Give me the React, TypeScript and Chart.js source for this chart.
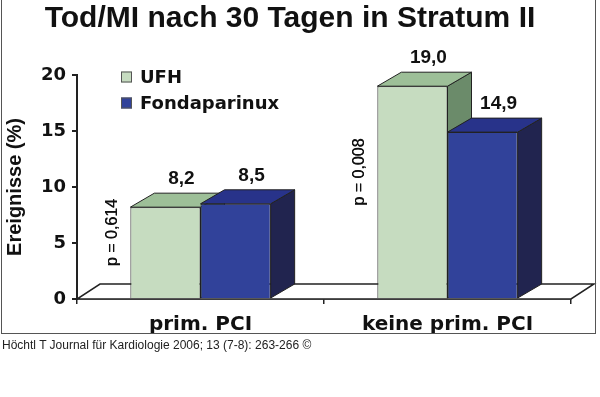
import React, { useEffect, useRef } from "react";
import { Chart, registerables } from "chart.js";

Chart.register(...registerables);

// ---- data ----
const categories = ["prim. PCI", "keine prim. PCI"];
const seriesNames = ["UFH", "Fondaparinux"];
const ufhValues = [8.2, 19.0];
const fondaValues = [8.5, 14.9];
const pValueLabels = ["p = 0,614", "p = 0,008"];
const yTickValues = [0, 5, 10, 15, 20];
const titleText = "Tod/MI nach 30 Tagen in Stratum II";
const yTitleText = "Ereignisse (%)";
const footerText = "Höchtl T Journal für Kardiologie 2006; 13 (7-8): 263-266 ©";

// ---- styles ----
const frontColors = ["#c6dcc0", "#31429a"];
const topColors = ["#9dbf98", "#28338a"];
const sideColors = ["#6b8b6a", "#21244f"];
const DX = 24;
const DY = -14;
const EDGE = "#222222";
const TEXT = "#111111";

const fmt = (v: number) => v.toFixed(1).replace(".", ",");

function poly(ctx: CanvasRenderingContext2D, pts: number[][], fill: string, lw = 1) {
  ctx.beginPath();
  ctx.moveTo(pts[0][0], pts[0][1]);
  for (let k = 1; k < pts.length; k++) ctx.lineTo(pts[k][0], pts[k][1]);
  ctx.closePath();
  ctx.fillStyle = fill;
  ctx.fill();
  ctx.lineWidth = lw;
  ctx.strokeStyle = EDGE;
  ctx.stroke();
}

const threeDPlugin = {
  id: "threeD",
  beforeDatasetsDraw(chart: any) {
    const { ctx, chartArea } = chart;
    const y = chart.scales.y;
    const zeroY = y.getPixelForValue(0);
    ctx.save();
    // floor
    poly(
      ctx,
      [
        [chartArea.left, zeroY],
        [chartArea.right, zeroY],
        [chartArea.right + DX - 1, zeroY + DY - 1],
        [chartArea.left + DX - 1, zeroY + DY - 1],
      ],
      "#ffffff",
      1.5
    );
    // side and top faces
    for (let i = 0; i < categories.length; i++) {
      for (let d = 0; d < chart.data.datasets.length; d++) {
        const el = chart.getDatasetMeta(d).data[i];
        const p = el.getProps(["x", "y", "base", "width"], true);
        const left = p.x - p.width / 2;
        const right = p.x + p.width / 2;
        const top = p.y;
        const base = p.base;
        poly(
          ctx,
          [
            [right, top],
            [right + DX, top + DY],
            [right + DX, base + DY],
            [right, base],
          ],
          sideColors[d]
        );
        poly(
          ctx,
          [
            [left, top],
            [left + DX, top + DY],
            [right + DX, top + DY],
            [right, top],
          ],
          topColors[d]
        );
      }
    }
    ctx.restore();
  },
  afterDatasetsDraw(chart: any) {
    const { ctx } = chart;
    ctx.save();
    ctx.fillStyle = TEXT;
    // value labels
    ctx.font = "bold 19px 'Liberation Sans', Arial, sans-serif";
    ctx.textAlign = "center";
    ctx.textBaseline = "middle";
    for (let d = 0; d < chart.data.datasets.length; d++) {
      const meta = chart.getDatasetMeta(d);
      meta.data.forEach((el: any, i: number) => {
        const p = el.getProps(["x", "y"], true);
        const v = chart.data.datasets[d].data[i] as number;
        ctx.fillText(fmt(v), p.x + DX / 2 + 4, p.y + DY - 14);
      });
    }
    // p-values (rotated)
    ctx.font = "16px 'Liberation Sans', Arial, sans-serif";
    const meta0 = chart.getDatasetMeta(0);
    meta0.data.forEach((el: any, i: number) => {
      const p = el.getProps(["x", "y", "base", "width"], true);
      const tx = p.x - p.width / 2 - 18;
      const ty = (p.y + p.base) / 2 - 20;
      ctx.save();
      ctx.translate(tx, ty);
      ctx.rotate(-Math.PI / 2);
      ctx.fillText(pValueLabels[i], 0, 0);
      ctx.fillText(pValueLabels[i], 0.4, 0);
      ctx.restore();
    });
    ctx.restore();
  },
  afterDraw(chart: any) {
    const { ctx, chartArea } = chart;
    ctx.save();
    ctx.font = "bold 18px 'DejaVu Sans', sans-serif";
    ctx.textAlign = "left";
    ctx.textBaseline = "middle";
    chart.data.datasets.forEach((ds: any, d: number) => {
      const cy = chartArea.top + 2 + d * 26;
      const mx = chartArea.left + 44;
      ctx.fillStyle = frontColors[d];
      ctx.fillRect(mx, cy - 5.5, 11, 11);
      ctx.strokeStyle = "#555";
      ctx.lineWidth = 1;
      ctx.strokeRect(mx + 0.5, cy - 5, 10, 10);
      ctx.fillStyle = TEXT;
      ctx.fillText(ds.label, mx + 19, cy + 1);
    });
    ctx.restore();
  },
};

export default function App() {
  const ref = useRef<HTMLCanvasElement | null>(null);

  useEffect(() => {
    if (!ref.current) return;
    const chart = new Chart(ref.current, {
      type: "bar",
      data: {
        labels: categories,
        datasets: [
          {
            label: seriesNames[0],
            data: ufhValues,
            backgroundColor: frontColors[0],
            borderColor: EDGE,
            borderWidth: 1,
            categoryPercentage: 0.568,
            barPercentage: 1,
          },
          {
            label: seriesNames[1],
            data: fondaValues,
            backgroundColor: frontColors[1],
            borderColor: EDGE,
            borderWidth: 1,
            categoryPercentage: 0.568,
            barPercentage: 1,
          },
        ],
      },
      options: {
        responsive: false,
        animation: false,
        layout: { padding: { left: 0, right: 20, top: 0, bottom: 0 } },
        plugins: {
          legend: { display: false },
          tooltip: { enabled: false },
          title: {
            display: true,
            text: titleText,
            color: TEXT,
            font: { family: "'Liberation Sans', Arial, sans-serif", size: 30, weight: "bold" },
            padding: { top: 1, bottom: 38 },
          },
        },
        scales: {
          x: {
            offset: true,
            grid: {
              display: true,
              drawOnChartArea: false,
              drawTicks: true,
              tickLength: 5,
              color: "#222",
              lineWidth: 1.5,
            },
            border: { display: true, color: "#222", width: 1.5 },
            ticks: {
              color: TEXT,
              padding: 9,
              font: { family: "'DejaVu Sans', sans-serif", size: 20, weight: "bold" },
            },
            afterFit: (s: any) => {
              s.height = 98;
            },
          },
          y: {
            min: 0,
            max: 20,
            afterBuildTicks: (s: any) => {
              s.ticks = yTickValues.map((v) => ({ value: v }));
            },
            grid: {
              display: true,
              drawOnChartArea: false,
              drawTicks: true,
              tickLength: 5,
              color: "#222",
              lineWidth: 2,
            },
            border: { display: true, color: "#222", width: 2 },
            ticks: {
              color: TEXT,
              padding: 6,
              font: { family: "'DejaVu Sans', sans-serif", size: 18, weight: "bold" },
            },
            title: {
              display: true,
              text: yTitleText,
              color: TEXT,
              font: { family: "'Liberation Sans', Arial, sans-serif", size: 20, weight: "bold" },
              padding: { top: 3, bottom: 0 },
            },
            afterFit: (s: any) => {
              s.width = 77;
            },
          },
          yRight: {
            type: "linear",
            position: "right",
            display: true,
            min: 0,
            max: 20,
            grid: { display: false },
            border: { display: false },
            ticks: { display: false },
            afterFit: (s: any) => {
              s.width = 9;
            },
          },
        },
      } as any,
      plugins: [threeDPlugin],
    });
    return () => chart.destroy();
  }, []);

  return (
    <div
      style={{
        position: "absolute",
        left: 0,
        top: 0,
        width: 600,
        height: 397,
        background: "#ffffff",
        overflow: "hidden",
      }}
    >
      <canvas
        ref={ref}
        width={600}
        height={397}
        style={{ position: "absolute", left: 0, top: 0, width: 600, height: 397 }}
      />
      <div
        style={{
          position: "absolute",
          left: 1,
          top: -1,
          width: 593,
          height: 333,
          border: "1px solid #555",
          pointerEvents: "none",
        }}
      />
      <div
        style={{
          position: "absolute",
          left: 2,
          top: 338,
          font: "12px 'Liberation Sans', Arial, sans-serif",
          lineHeight: "14px",
          color: "#222",
          whiteSpace: "nowrap",
        }}
      >
        {footerText}
      </div>
    </div>
  );
}
